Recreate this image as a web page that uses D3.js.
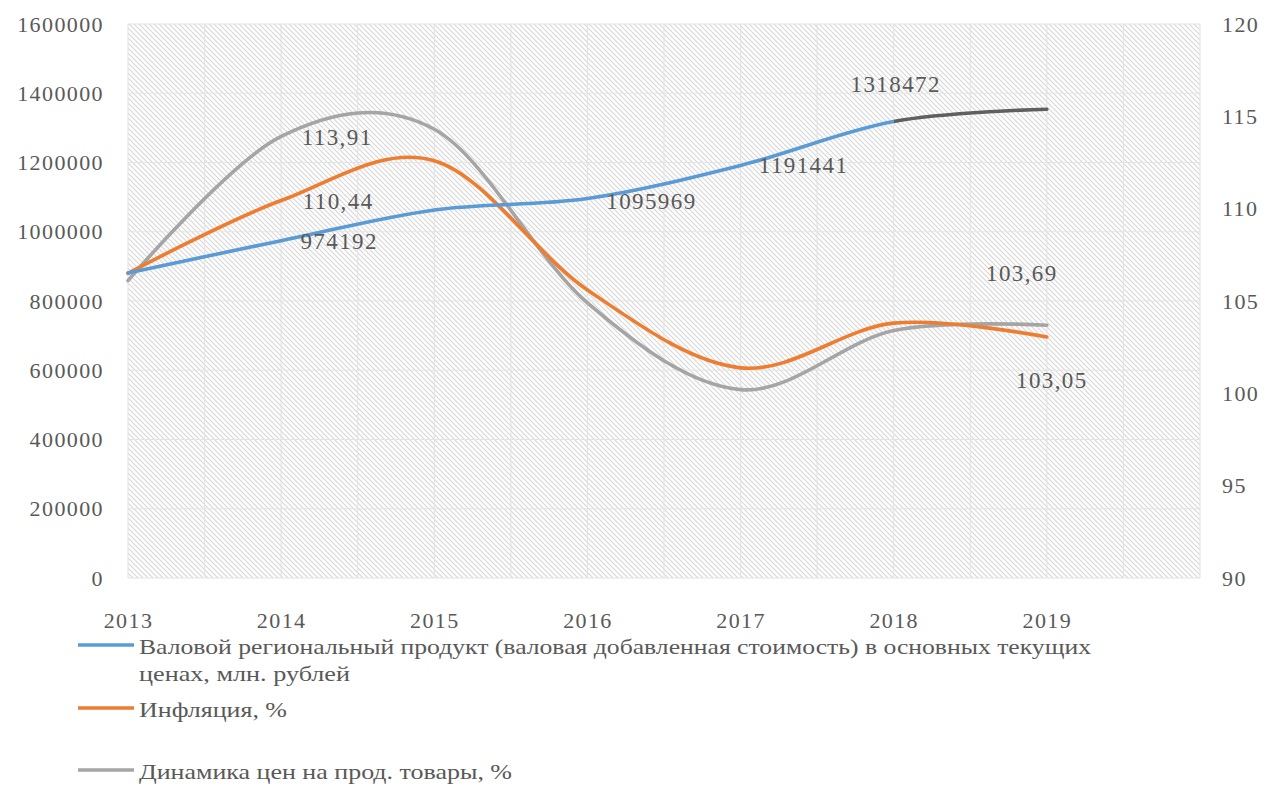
<!DOCTYPE html>
<html>
<head>
<meta charset="utf-8">
<script src="https://cdnjs.cloudflare.com/ajax/libs/d3/7.8.5/d3.min.js"></script>
<style>
  html, body { margin: 0; padding: 0; background: #ffffff; }
  svg { display: block; }
  text { font-family: "Liberation Serif", "Times New Roman", serif; fill: #595959; }
</style>
</head>
<body>
<svg id="chart" width="1264" height="785"></svg>
<script>
// Годы наблюдения
const years = [2013, 2014, 2015, 2016, 2017, 2018, 2019];
// Валовой региональный продукт, млн. рублей (левая ось)
const grp = [881000, 974192, 1063000, 1095969, 1191441, 1318472, 1354000];
// Инфляция, % (правая ось)
const inflation = [106.5, 110.44, 112.6, 105.6, 101.38, 103.8, 103.05];
// Динамика цен на продовольственные товары, % (правая ось)
const foodPrices = [106.1, 113.91, 114.3, 104.9, 100.2, 103.4, 103.69];

const leftTicks = [0, 200000, 400000, 600000, 800000, 1000000, 1200000, 1400000, 1600000];
const rightTicks = [90, 95, 100, 105, 110, 115, 120];

const legendLabels = [
  ["Валовой региональный продукт (валовая добавленная стоимость) в основных текущих", "ценах, млн. рублей"],
  ["Инфляция, %"],
  ["Динамика цен на прод. товары, %"]
];

// Подписи значений: [ряд, индекс года, текст]
const valueLabels = [
  ["food", 1, "113,91"],
  ["infl", 1, "110,44"],
  ["grp", 1, "974192"],
  ["grp", 3, "1095969"],
  ["grp", 4, "1191441"],
  ["grp", 5, "1318472"],
  ["food", 6, "103,69"],
  ["infl", 6, "103,05"]
];

const colors = { grp: "#5b9bd5", grpTail: "#5f5f5f", infl: "#ed7d31", food: "#a5a5a5" };

const svg = d3.select("#chart");
const plotLeft = 128, plotRight = 1200, plotTop = 24, plotBottom = 578;

const x = d3.scaleLinear().domain([2013, 2020]).range([plotLeft, plotRight]);
const yL = d3.scaleLinear().domain([0, 1600000]).range([plotBottom, plotTop]);
const yR = d3.scaleLinear().domain([90, 120]).range([plotBottom, plotTop]);

const defs = svg.append("defs");

// Штриховка области построения
const pat = defs.append("pattern")
  .attr("id", "hatch")
  .attr("patternUnits", "userSpaceOnUse")
  .attr("width", 5).attr("height", 5);
pat.append("rect").attr("width", 5).attr("height", 5).attr("fill", "#ffffff");
pat.append("path")
  .attr("d", "M-1,-1 L6,6 M-1,4 L1,6 M4,-1 L6,1")
  .attr("stroke", "#d8d8d8")
  .attr("stroke-width", 1.2);

defs.append("clipPath").attr("id", "clipHead")
  .append("rect").attr("x", 0).attr("y", 0).attr("width", x(2018)).attr("height", 785);
defs.append("clipPath").attr("id", "clipTail")
  .append("rect").attr("x", x(2018)).attr("y", 0).attr("width", 1264 - x(2018)).attr("height", 785);

svg.append("rect")
  .attr("x", plotLeft).attr("y", plotTop)
  .attr("width", plotRight - plotLeft).attr("height", plotBottom - plotTop)
  .attr("fill", "url(#hatch)");

// Сетка
const grid = svg.append("g").attr("stroke", "#e4e4e4").attr("stroke-width", 1.2);
grid.selectAll(".h").data(leftTicks).join("line")
  .attr("x1", plotLeft).attr("x2", plotRight)
  .attr("y1", d => yL(d)).attr("y2", d => yL(d));
grid.selectAll(".v").data(d3.range(2013, 2020.001, 0.5)).join("line")
  .attr("x1", d => x(d)).attr("x2", d => x(d))
  .attr("y1", plotTop).attr("y2", plotBottom);

// Оси
const axisFont = g => {
  g.select(".domain").remove();
  g.selectAll("line").remove();
  g.selectAll("text")
    .attr("fill", "#4a4a4a")
    .style("font-family", "'Liberation Serif', 'Times New Roman', serif")
    .style("font-size", "22px")
    .style("letter-spacing", "1.4px");
};

svg.append("g")
  .attr("transform", `translate(${plotLeft},0)`)
  .call(d3.axisLeft(yL).tickValues(leftTicks).tickSize(0).tickPadding(24).tickFormat(d3.format("d")))
  .call(axisFont);

svg.append("g")
  .attr("transform", `translate(${plotRight},0)`)
  .call(d3.axisRight(yR).tickValues(rightTicks).tickSize(0).tickPadding(22).tickFormat(d3.format("d")))
  .call(axisFont);

svg.append("g")
  .attr("transform", `translate(0,${plotBottom})`)
  .call(d3.axisBottom(x).tickValues(years).tickSize(0).tickPadding(34).tickFormat(d3.format("d")))
  .call(axisFont);

// Линии рядов
const curve = d3.curveCardinal.tension(0);
const lineL = d3.line().x((d, i) => x(years[i])).y(d => yL(d)).curve(curve);
const lineR = d3.line().x((d, i) => x(years[i])).y(d => yR(d)).curve(curve);

const series = svg.append("g").attr("fill", "none").attr("stroke-width", 3.6).attr("stroke-linecap", "round");
series.append("path").attr("d", lineR(foodPrices)).attr("stroke", colors.food);
series.append("path").attr("d", lineR(inflation)).attr("stroke", colors.infl);
series.append("path").attr("d", lineL(grp)).attr("stroke", colors.grp).attr("clip-path", "url(#clipHead)");
series.append("path").attr("d", lineL(grp)).attr("stroke", colors.grpTail).attr("clip-path", "url(#clipTail)");

// Подписи данных
const labelOffsets = {
  "113,91": [56, 9],
  "110,44": [57, 8],
  "974192": [58, 8],
  "1095969": [64, 10],
  "1191441": [63, 8],
  "1318472": [2, -29],
  "103,69": [-25, -44],
  "103,05": [5, 51]
};
const valueOf = (s, i) => s === "grp" ? yL(grp[i]) : s === "infl" ? yR(inflation[i]) : yR(foodPrices[i]);

svg.append("g").selectAll("text").data(valueLabels).join("text")
  .attr("x", d => x(years[d[1]]) + labelOffsets[d[2]][0])
  .attr("y", d => valueOf(d[0], d[1]) + labelOffsets[d[2]][1])
  .attr("text-anchor", "middle")
  .style("font-size", "23px")
  .style("letter-spacing", "1.4px")
  .attr("fill", "#333333")
  .text(d => d[2]);

// Легенда
const legendRows = [
  { color: colors.grp, y: 645, lines: legendLabels[0], widths: [952, 211] },
  { color: colors.infl, y: 708, lines: legendLabels[1], widths: [148] },
  { color: colors.food, y: 770, lines: legendLabels[2], widths: [373] }
];
const legend = svg.append("g");
legendRows.forEach(r => {
  legend.append("line")
    .attr("x1", 78).attr("x2", 134)
    .attr("y1", r.y).attr("y2", r.y)
    .attr("stroke", r.color).attr("stroke-width", 3.6);
  r.lines.forEach((t, k) => {
    legend.append("text")
      .attr("x", 139)
      .attr("y", r.y + 9 + k * 27)
      .attr("textLength", r.widths[k])
      .attr("lengthAdjust", "spacingAndGlyphs")
      .attr("fill", "#4a4a4a")
      .style("font-size", "21px")
      .text(t);
  });
});
</script>
</body>
</html>
